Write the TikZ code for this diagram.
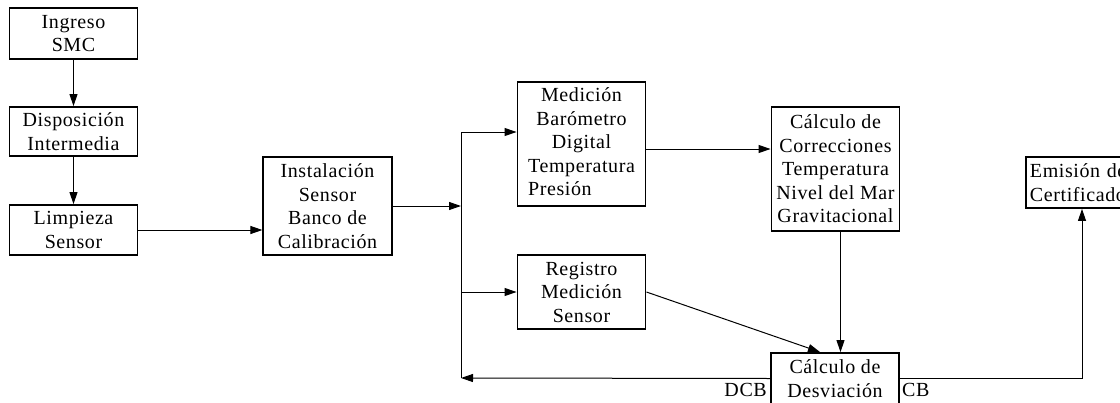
\documentclass[tikz,border=0pt]{standalone}
\usepackage{fontspec}
\setmainfont[LetterSpace=3]{Liberation Serif}
\usepackage{tikz}
\usetikzlibrary{arrows.meta,positioning,calc}
\tikzset{
  blk/.style={draw=black, line width=1.9pt, minimum width=128pt, align=center,
    inner sep=2pt, font=\fontsize{20}{23.5}\selectfont},
  thinblk/.style={blk, line width=1.2pt},
  lbl/.style={font=\fontsize{20}{23.5}\selectfont, inner sep=0pt},
  wire/.style={line width=1pt},
  flow/.style={-{Triangle[length=12pt,width=8pt]}, line width=1pt}
}

\begin{document}
\begin{tikzpicture}[x=1pt, y=-1pt]
  \useasboundingbox (0,0) rectangle (1120,402);

  % reception chain
  \node[blk, minimum height=51pt] (ingreso) at (73.5,33.5) {Ingreso\\SMC};
  \node[blk, minimum height=49pt] (dispos) at (73.5,131.5) {Disposición\\Intermedia};
  \node[blk, minimum height=50pt] (limpieza) at (73.5,230) {Limpieza\\Sensor};
  \node[thinblk, minimum width=129pt, minimum height=98pt] (instal) at (327.5,206)
    {Instalación\\Sensor\\Banco de\\Calibración};

  % measurement and corrections
  \node[blk, minimum height=124pt] (medicion) at (581.5,144)
    {Medición\\Barómetro\\Digital\\Temperatura\\\rlap{Presión}\phantom{Temperatura}};
  \node[blk, minimum height=74pt] (registro) at (581.5,292)
    {Registro\\Medición\\Sensor};
  \node[blk, minimum height=124pt] (correc) at (835.5,169)
    {Cálculo de\\Correcciones\\Temperatura\\Nivel del Mar\\Gravitacional};
  \node[blk, minimum height=51pt] (desv) at (835,378.5) {Cálculo de\\Desviación};
  \node[blk, anchor=north west, align=left, text width=120pt, minimum height=51pt,
    inner sep=4pt] (emision) at (1025,156) {Emisión de\\Certificado};

  \node[lbl, anchor=base east] (dcb) at (767,396) {DCB};
  \node[lbl, anchor=base west] (cb) at (902,396) {CB};

  \coordinate (bustop) at (461,132);
  \coordinate (busbot) at (461,378);

  \draw[flow] (ingreso) -- (dispos);
  \draw[flow] (dispos) -- (limpieza);
  \draw[flow] (limpieza.east) -- (limpieza.east -| instal.west);
  \draw[flow] (instal.east) -- (instal.east -| bustop);
  \draw[wire] (bustop) -- (busbot);
  \draw[flow] (bustop) -- (bustop -| medicion.west);
  \draw[flow] (registro.west -| bustop) -- (registro.west);
  \draw[flow] ([yshift=-5pt]medicion.east) -- ([yshift=-5pt]medicion.east -| correc.west);
  \draw[flow] ([xshift=5pt]correc.south) -- ([xshift=5pt]correc.south |- desv.north);
  \draw[flow] (registro.east) -- ([xshift=-15pt]desv.north);
  \draw[flow] (desv.west) -- (busbot);
  \draw[flow] (desv.east) -| (1082,0 |- emision.south);
\end{tikzpicture}
\end{document}
